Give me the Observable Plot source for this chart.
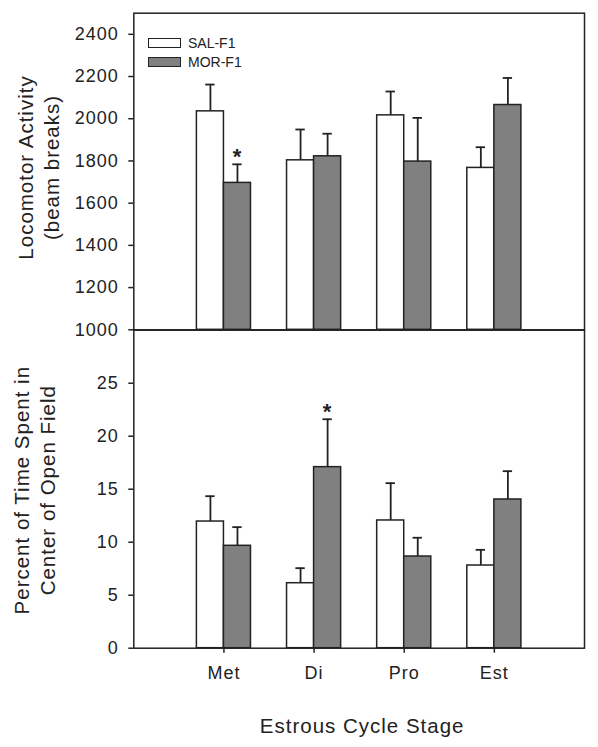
<!DOCTYPE html>
<html>
<head>
<meta charset="utf-8">
<script src="https://cdn.jsdelivr.net/npm/d3@7"></script>
<script src="https://cdn.jsdelivr.net/npm/@observablehq/plot@0.6"></script>
<style>
  body { margin: 0; background: #fff; }
  #wrap { position: relative; width: 598px; height: 747px; overflow: hidden;
          font-family: "Liberation Sans", Arial, sans-serif; color: #222; }
  #wrap svg { position: absolute; left: 0; }
  .legend { position: absolute; left: 148px; top: 34px; font-size: 14px; line-height: 18.5px; }
  .legend .item { display: flex; align-items: center; height: 18.5px; }
  .legend .sw { width: 31px; height: 8px; border: 1.5px solid #222; margin-right: 7px; }
</style>
</head>
<body>
<div id="wrap"></div>
<script>
// ---- data ----
const stages = ["Met", "Di", "Pro", "Est"];
const groups = ["SAL-F1", "MOR-F1"];

// Locomotor activity (beam breaks): mean and SEM
const locoSAL    = [2035, 1803, 2016, 1767];
const locoSALerr = [127, 146, 113, 98];
const locoMOR    = [1696, 1822, 1797, 2065];
const locoMORerr = [88, 107, 207, 128];
const locoSigMOR = [true, false, false, false];

// Percent of time in center of open field: mean and SEM
const centerSAL    = [11.95, 6.13, 12.05, 7.8];
const centerSALerr = [2.39, 1.42, 3.52, 1.48];
const centerMOR    = [9.66, 17.08, 8.65, 14.03];
const centerMORerr = [1.76, 4.52, 1.77, 2.67];
const centerSigMOR = [false, true, false, false];

const locoTicks = [1000, 1200, 1400, 1600, 1800, 2000, 2200, 2400];
const centerTicks = [0, 5, 10, 15, 20, 25];

// ---- build tables ----
function buildRows(sal, salErr, mor, morErr, morSig) {
  const out = [];
  stages.forEach((s, i) => {
    out.push({stage: s, pos: i + 1, group: groups[0], value: sal[i], err: salErr[i], sig: false});
    out.push({stage: s, pos: i + 1, group: groups[1], value: mor[i], err: morErr[i], sig: morSig[i]});
  });
  return out;
}
const locoRows = buildRows(locoSAL, locoSALerr, locoMOR, locoMORerr, locoSigMOR);
const centerRows = buildRows(centerSAL, centerSALerr, centerMOR, centerMORerr, centerSigMOR);

const W = 0.3;        // bar width in x units
const CAP = 0.052;    // half width of error cap
const INK = "#222";
const left = (d) => d.group === groups[0] ? d.pos - W : d.pos;
const right = (d) => d.group === groups[0] ? d.pos : d.pos + W;
const mid = (d) => (left(d) + right(d)) / 2;

function panelMarks(rows, base, ticks) {
  return [
    Plot.rect(rows, {x1: left, x2: right, y1: () => base, y2: "value",
      fill: "group", stroke: INK, strokeWidth: 1.5}),
    Plot.ruleX(rows, {x: mid, y1: "value", y2: (d) => d.value + d.err, stroke: INK, strokeWidth: 1.8}),
    Plot.ruleY(rows, {y: (d) => d.value + d.err, x1: (d) => mid(d) - CAP, x2: (d) => mid(d) + CAP,
      stroke: INK, strokeWidth: 1.8}),
    Plot.text(rows.filter((d) => d.sig), {x: mid, y: (d) => d.value + d.err, text: () => "*",
      fontSize: 22, fontWeight: "bold", lineAnchor: "middle", dy: -7, fill: INK}),
    Plot.axisY({ticks, tickFormat: (v) => String(v), tickSize: 5, tickPadding: 10, fontSize: 18,
      label: null, stroke: INK, strokeWidth: 1.5, fill: INK}),
    Plot.frame({stroke: INK, strokeWidth: 1.5})
  ];
}

const baseStyle = {background: "transparent", overflow: "visible",
  fontFamily: "'Liberation Sans', Arial, sans-serif", color: INK, letterSpacing: "1px"};

const topPlot = Plot.plot({
  width: 598, height: 330,
  marginLeft: 133.3, marginRight: 14, marginTop: 12.7, marginBottom: 0.7,
  x: {domain: [0, 5], axis: null},
  y: {domain: [1000, 2500], axis: null},
  color: {domain: groups, range: ["#ffffff", "#808080"]},
  style: baseStyle,
  marks: [
    ...panelMarks(locoRows, 1000, locoTicks),
    Plot.text(["Locomotor Activity\n(beam breaks)"], {frameAnchor: "left", text: (d) => d,
      rotate: -90, fontSize: 20.5, lineHeight: 1.25, lineAnchor: "middle", textAnchor: "middle",
      dx: -96, dy: -4, fill: INK})
  ]
});

const bottomPlot = Plot.plot({
  width: 598, height: 427,
  marginLeft: 133.3, marginRight: 14, marginTop: 9.7, marginBottom: 99.3,
  x: {domain: [0, 5], axis: null},
  y: {domain: [0, 30], axis: null},
  color: {domain: groups, range: ["#ffffff", "#808080"]},
  style: baseStyle,
  marks: [
    ...panelMarks(centerRows, 0, centerTicks),
    Plot.axisX({ticks: [1, 2, 3, 4], tickFormat: (v) => stages[v - 1], tickSize: 5, tickPadding: 13,
      fontSize: 18, label: null, stroke: INK, strokeWidth: 1.5, fill: INK}),
    Plot.text(["Percent of Time Spent in\nCenter of Open Field"], {frameAnchor: "left", text: (d) => d,
      rotate: -90, fontSize: 20.5, lineHeight: 1.25, lineAnchor: "middle", textAnchor: "middle",
      dx: -100, dy: 1, fill: INK}),
    Plot.text(["Estrous Cycle Stage"], {frameAnchor: "bottom", text: (d) => d,
      fontSize: 20.5, lineAnchor: "middle", dy: 78.5, dx: 3, fill: INK})
  ]
});

const wrap = document.getElementById("wrap");
topPlot.style.top = "0px";
bottomPlot.style.top = "320px";
wrap.appendChild(bottomPlot);
wrap.appendChild(topPlot);

// legend (HTML, over the top panel)
const legend = document.createElement("div");
legend.className = "legend";
const fills = {"SAL-F1": "#ffffff", "MOR-F1": "#808080"};
groups.forEach((g) => {
  const item = document.createElement("div");
  item.className = "item";
  const sw = document.createElement("span");
  sw.className = "sw";
  sw.style.background = fills[g];
  const lab = document.createElement("span");
  lab.textContent = g;
  item.appendChild(sw);
  item.appendChild(lab);
  legend.appendChild(item);
});
wrap.appendChild(legend);
</script>
</body>
</html>
